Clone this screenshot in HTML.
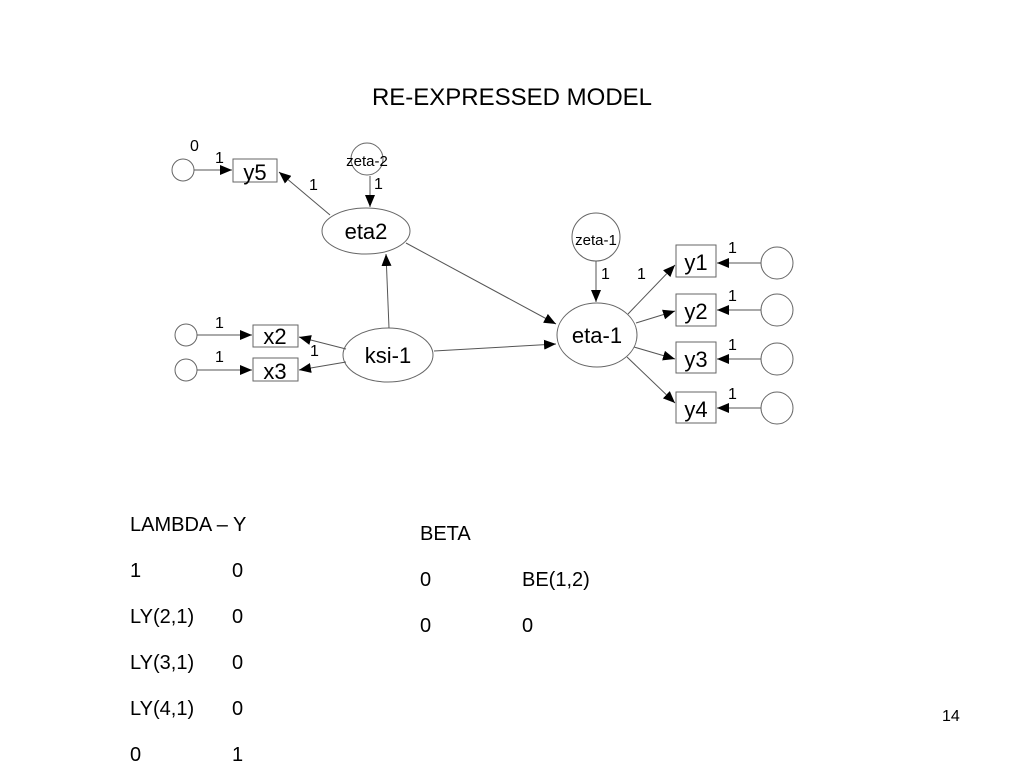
<!DOCTYPE html>
<html><head><style>
body{margin:0;width:1024px;height:768px;background:#fff;overflow:hidden;position:relative;font-family:"Liberation Sans",sans-serif;}
.t{position:absolute;font-size:20px;color:#000;white-space:nowrap}
</style></head><body>
<svg width="1024" height="768" style="position:absolute;left:0;top:0" font-family="Liberation Sans, sans-serif">
<defs><marker id="a" markerWidth="12" markerHeight="10" refX="12" refY="5" orient="auto" markerUnits="userSpaceOnUse"><path d="M0,0L12,5L0,10z" fill="#000"/></marker></defs>
<text x="512" y="105" font-size="24" text-anchor="middle">RE-EXPRESSED MODEL</text>
<g stroke="#666" fill="#fff" stroke-width="1">
<circle cx="183" cy="170" r="11"/>
<rect x="233" y="159" width="44" height="23"/>
<circle cx="367" cy="159" r="16"/>
<ellipse cx="366" cy="231" rx="44" ry="23"/>
<ellipse cx="388" cy="355" rx="45" ry="27"/>
<rect x="253" y="325" width="45" height="22"/>
<rect x="253" y="358" width="45" height="23"/>
<circle cx="186" cy="335" r="11"/>
<circle cx="186" cy="370" r="11"/>
<circle cx="596" cy="237" r="24"/>
<ellipse cx="597" cy="335" rx="40" ry="32"/>
<rect x="676" y="245" width="40" height="32"/>
<rect x="676" y="294" width="40" height="32"/>
<rect x="676" y="342" width="40" height="31"/>
<rect x="676" y="392" width="40" height="31"/>
<circle cx="777" cy="263" r="16"/>
<circle cx="777" cy="310" r="16"/>
<circle cx="777" cy="359" r="16"/>
<circle cx="777" cy="408" r="16"/>
</g>
<g stroke="#555" stroke-width="1" marker-end="url(#a)">
<line x1="194" y1="170" x2="232" y2="170"/>
<line x1="330" y1="215" x2="279" y2="172"/>
<line x1="370" y1="176" x2="370" y2="207"/>
<line x1="389" y1="328" x2="386" y2="254"/>
<line x1="406" y1="243" x2="556" y2="324"/>
<line x1="434" y1="351" x2="556" y2="344"/>
<line x1="346" y1="349" x2="299" y2="337"/>
<line x1="346" y1="362" x2="299" y2="370"/>
<line x1="197" y1="335" x2="252" y2="335"/>
<line x1="197" y1="370" x2="252" y2="370"/>
<line x1="596" y1="261" x2="596" y2="302"/>
<line x1="628" y1="314" x2="675" y2="265"/>
<line x1="636" y1="323" x2="675" y2="311"/>
<line x1="634" y1="347" x2="675" y2="359"/>
<line x1="627" y1="357" x2="675" y2="403"/>
<line x1="761" y1="263" x2="717" y2="263"/>
<line x1="761" y1="310" x2="717" y2="310"/>
<line x1="761" y1="359" x2="717" y2="359"/>
<line x1="761" y1="408" x2="717" y2="408"/>
</g>
<g font-size="22" text-anchor="middle">
<text x="255" y="180">y5</text>
<text x="366" y="239">eta2</text>
<text x="388" y="363">ksi-1</text>
<text x="275" y="344">x2</text>
<text x="275" y="379">x3</text>
<text x="597" y="343">eta-1</text>
<text x="696" y="270">y1</text>
<text x="696" y="319">y2</text>
<text x="696" y="367">y3</text>
<text x="696" y="417">y4</text>
</g>
<g font-size="15" text-anchor="middle">
<text x="367" y="166">zeta-2</text>
<text x="596" y="245">zeta-1</text>
</g>
<g font-size="16">
<text x="190" y="151">0</text>
<text x="215" y="163">1</text>
<text x="309" y="190">1</text>
<text x="374" y="189">1</text>
<text x="215" y="328">1</text>
<text x="215" y="362">1</text>
<text x="310" y="356">1</text>
<text x="601" y="279">1</text>
<text x="637" y="279">1</text>
<text x="728" y="253">1</text>
<text x="728" y="301">1</text>
<text x="728" y="350">1</text>
<text x="728" y="399">1</text>
</g>
</svg>
<div class="t" style="left:130px;top:514px">LAMBDA – Y</div>
<div class="t" style="left:130px;top:560px">1</div><div class="t" style="left:232px;top:560px">0</div>
<div class="t" style="left:130px;top:606px">LY(2,1)</div><div class="t" style="left:232px;top:606px">0</div>
<div class="t" style="left:130px;top:652px">LY(3,1)</div><div class="t" style="left:232px;top:652px">0</div>
<div class="t" style="left:130px;top:698px">LY(4,1)</div><div class="t" style="left:232px;top:698px">0</div>
<div class="t" style="left:130px;top:744px">0</div><div class="t" style="left:232px;top:744px">1</div>
<div class="t" style="left:420px;top:523px">BETA</div>
<div class="t" style="left:420px;top:569px">0</div><div class="t" style="left:522px;top:569px">BE(1,2)</div>
<div class="t" style="left:420px;top:615px">0</div><div class="t" style="left:522px;top:615px">0</div>
<div class="t" style="left:942px;top:708px;font-size:16px">14</div>
</body></html>
